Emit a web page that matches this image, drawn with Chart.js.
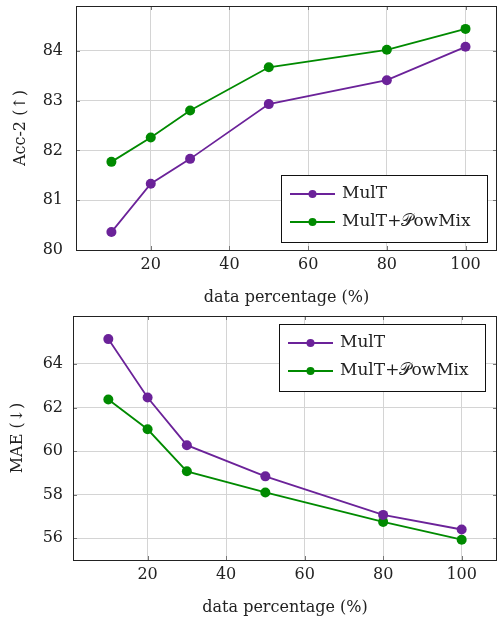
<!DOCTYPE html>
<html>
<head>
<meta charset="utf-8">
<script src="https://cdn.jsdelivr.net/npm/chart.js@4.4.1/dist/chart.umd.min.js"></script>
<style>
  html, body { margin: 0; padding: 0; background: #fff; }
  .box { position: absolute; left: 0; width: 498px; height: 310px; }
</style>
</head>
<body>
<div class="box" style="top:0"><canvas id="acc-chart" width="498" height="310"></canvas></div>
<div class="box" style="top:310px"><canvas id="mae-chart" width="498" height="310"></canvas></div>
<script>
// Data
const percentages = [10, 20, 30, 50, 80, 100];
const seriesNames = ['MulT', 'MulT+𝒫owMix'];
const accMulT = [80.36, 81.33, 81.83, 82.93, 83.41, 84.08];
const accPowMix = [81.77, 82.26, 82.80, 83.67, 84.02, 84.44];
const maeMulT = [65.14, 62.46, 60.27, 58.84, 57.07, 56.40];
const maePowMix = [62.37, 61.00, 59.07, 58.10, 56.75, 55.93];
const xTickValues = [20, 40, 60, 80, 100];
const accTickValues = [80, 81, 82, 83, 84];
const maeTickValues = [56, 58, 60, 62, 64];

const PURPLE = '#6b2299';
const GREEN = '#008a00';
const FONT = "'DejaVu Serif', 'DejaVu Sans', serif";

// Full frame + small inner tick marks
const framePlugin = {
    id: 'frame',
    beforeDatasetsDraw(chart) {
        const { ctx, chartArea: a, scales } = chart;
        ctx.save();
        ctx.strokeStyle = '#777';
        ctx.lineWidth = 1;
        ctx.beginPath();
        scales.x.ticks.forEach(t => {
            const px = Math.round(scales.x.getPixelForValue(t.value)) + 0.5;
            ctx.moveTo(px, a.bottom); ctx.lineTo(px, a.bottom - 4);
            ctx.moveTo(px, a.top); ctx.lineTo(px, a.top + 4);
        });
        scales.y.ticks.forEach(t => {
            const py = Math.round(scales.y.getPixelForValue(t.value)) + 0.5;
            ctx.moveTo(a.left, py); ctx.lineTo(a.left + 4, py);
            ctx.moveTo(a.right, py); ctx.lineTo(a.right - 4, py);
        });
        ctx.stroke();
        ctx.strokeStyle = '#222';
        ctx.strokeRect(Math.round(a.left) + 0.5, Math.round(a.top) + 0.5,
            Math.round(a.right - a.left) - 1, Math.round(a.bottom - a.top));
        ctx.restore();
    }
};

// Legend box drawn inside the plot area
const boxLegendPlugin = {
    id: 'boxLegend',
    afterDatasetsDraw(chart, args, opts) {
        const { ctx, chartArea: a } = chart;
        const w = 206, h = 67;
        const x0 = a.right - opts.right - w;
        const y0 = opts.corner === 'top' ? a.top + opts.gap : a.bottom - opts.gap - h;
        ctx.save();
        ctx.fillStyle = '#fff';
        ctx.fillRect(x0, y0, w, h);
        ctx.strokeStyle = '#111';
        ctx.lineWidth = 1;
        ctx.strokeRect(Math.round(x0) + 0.5, Math.round(y0) + 0.5, w, h);
        ctx.font = '17px ' + FONT;
        ctx.textBaseline = 'middle';
        chart.data.datasets.forEach((ds, i) => {
            const cy = y0 + 19 + i * 28;
            ctx.strokeStyle = ds.borderColor;
            ctx.lineWidth = 1.8;
            ctx.beginPath();
            ctx.moveTo(x0 + 9, cy); ctx.lineTo(x0 + 54, cy);
            ctx.stroke();
            ctx.fillStyle = ds.borderColor;
            ctx.beginPath();
            ctx.arc(x0 + 31.5, cy, 4, 0, Math.PI * 2);
            ctx.fill();
            ctx.fillStyle = '#222';
            ctx.fillText(ds.label, x0 + 61, cy);
        });
        ctx.restore();
    }
};

function makeChart(canvasId, yTitle, values, yMin, yMax, yTicks, leftWidth, xMax, legendOpts, yTitlePad, yTickPad) {
    return new Chart(document.getElementById(canvasId), {
        type: 'line',
        data: {
            datasets: values.map((vals, i) => ({
                label: seriesNames[i],
                data: percentages.map((p, j) => ({ x: p, y: vals[j] })),
                borderColor: i === 0 ? PURPLE : GREEN,
                backgroundColor: i === 0 ? PURPLE : GREEN,
                borderWidth: 1.8,
                pointRadius: 5,
                pointBorderWidth: 0,
                tension: 0
            }))
        },
        options: {
            responsive: false,
            animation: false,
            layout: { autoPadding: false, padding: { top: 6, right: 1, left: 0, bottom: 0 } },
            plugins: {
                legend: { display: false },
                tooltip: { enabled: false },
                boxLegend: legendOpts
            },
            scales: {
                x: {
                    type: 'linear',
                    min: 1,
                    max: xMax,
                    afterBuildTicks: s => { s.ticks = xTickValues.map(v => ({ value: v })); },
                    afterFit: s => { s.height = 60; s.paddingLeft = 0; s.paddingRight = 0; },
                    grid: { color: '#d4d4d4', drawTicks: false },
                    border: { display: false },
                    ticks: { padding: 5, color: '#222', font: { family: FONT, size: 16 } },
                    title: {
                        display: true,
                        text: 'data percentage (%)',
                        color: '#222',
                        font: { family: FONT, size: 16 },
                        padding: { top: 0, bottom: 3 }
                    }
                },
                y: {
                    min: yMin,
                    max: yMax,
                    afterBuildTicks: s => { s.ticks = yTicks.map(v => ({ value: v })); },
                    afterFit: s => { s.width = leftWidth; s.paddingTop = 0; s.paddingBottom = 0; },
                    grid: { color: '#d4d4d4', drawTicks: false },
                    border: { display: false },
                    ticks: { padding: yTickPad, color: '#222', font: { family: FONT, size: 16 } },
                    title: {
                        display: true,
                        text: yTitle,
                        color: '#222',
                        font: { family: FONT, size: 16 },
                        padding: { top: yTitlePad, bottom: 0 }
                    }
                }
            }
        },
        plugins: [framePlugin, boxLegendPlugin]
    });
}

makeChart('acc-chart', 'Acc-2 (↑)', [accMulT, accPowMix], 80, 84.9, accTickValues, 76, 108,
    { corner: 'bottom', right: 10, gap: 8 }, 11, 13);
makeChart('mae-chart', 'MAE (↓)', [maeMulT, maePowMix], 55, 66.2, maeTickValues, 73, 109,
    { corner: 'top', right: 12, gap: 8 }, 8, 10);
</script>
</body>
</html>
